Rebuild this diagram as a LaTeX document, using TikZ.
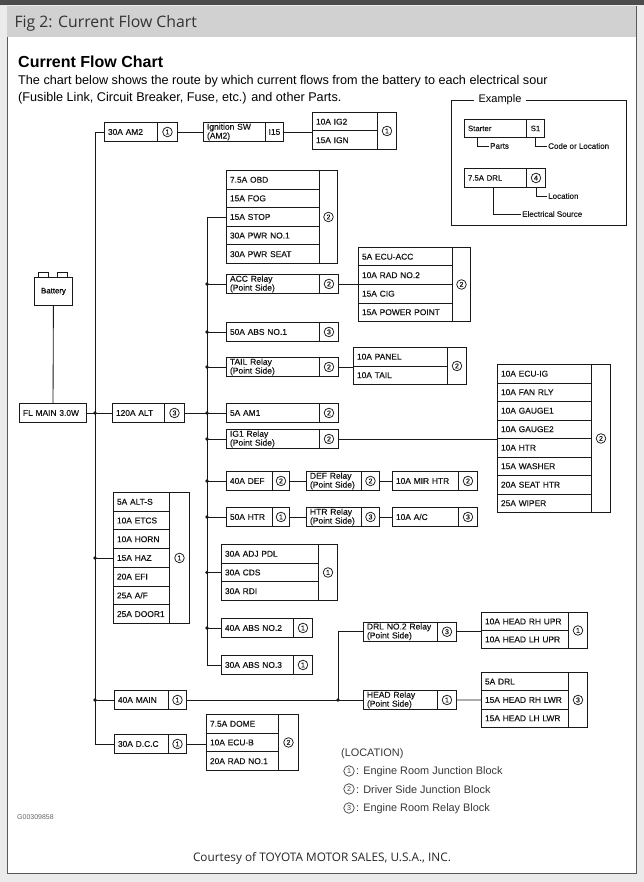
\documentclass[tikz,border=0pt]{standalone}
\usepackage{fontspec}
\setmainfont{Liberation Sans}
\newfontfamily\osans{Open Sans}
\newfontfamily\boxfont{Liberation Sans}[FakeBold=0.35]
\usetikzlibrary{calc}
\tikzset{
  ln/.style={line width=0.85pt, draw=black!90},
  cw/.code={\pgfmathsetmacro\cwtmp{#1-7}\edef\cwdo{\noexpand\pgfkeysalso{minimum width=#1pt,text width=\cwtmp pt}}\cwdo},
  box/.style={draw=black!90, line width=0.95pt, anchor=north west, inner xsep=3.5pt, inner ysep=0pt, align=left, font=\boxfont\fontsize{8.4}{9}\selectfont, text=black!92},
  rel/.style={box, inner xsep=2pt, font=\boxfont\fontsize{8.5}{7.8}\selectfont},
  cellc/.style={draw=black!90, line width=0.95pt, anchor=north west, inner sep=0pt, font=\boxfont\fontsize{8.4}{9}\selectfont, text=black!92},
  loc/.style={draw=black!90, line width=0.95pt, anchor=north west, inner sep=0pt, font=\boxfont\fontsize{7}{7}\selectfont, text=black!92,
    path picture={\draw[line width=0.75pt, black!90] (path picture bounding box.center) circle (4.8pt);}},
  cnum/.style={circle, draw=black!75, line width=0.7pt, inner sep=0pt, minimum size=10.5pt, font=\fontsize{7.2}{7}\selectfont, text=black!75},
  small/.style={font=\boxfont\fontsize{8}{9}\selectfont, text=black!90},
}
\newcommand\fusegroup[8]{%
  \foreach \lbl [count=\i] in {#8}{%
    \node[box, cw=#4, minimum height=#5pt] (#1\i) at (#2,{#3+#5*(\i-1)}) {\lbl};
    \xdef\grpn{\i}}%
  \pgfmathsetmacro\grph{#5*\grpn}%
  \node[loc, minimum width=#6pt, minimum height=\grph pt] (#1L) at ({#2+#4},#3) {#7};
}
\begin{document}
\begin{tikzpicture}[x=1pt,y=-1pt]
\useasboundingbox (0,0) rectangle (644,882);
% page frame
\fill[black!8] (0,0) rectangle (644,882);
\fill[black!70] (0,0) rectangle (644,5);
\draw[fill=white, draw=black!65, line width=0.8pt] (7,6) rectangle (636,873);
\fill[black!18] (7.4,6.4) rectangle (635.6,37);
\node[anchor=west, font=\osans\fontsize{15.8}{17}\selectfont, text=black!80] (fig) at (11,23) {Fig 2: Current Flow Chart};
% heading
\node[anchor=base west, inner sep=0pt, font=\bfseries\fontsize{16}{18}\selectfont] (head) at (18,68) {Current Flow Chart};
\node[anchor=base west, inner sep=0pt, font=\fontsize{12.65}{14}\selectfont] (sub1) at (18,84.5) {The chart below shows the route by which current flows from the battery to each electrical sour};
\node[anchor=base west, inner sep=0pt, font=\fontsize{12.65}{14}\selectfont] (sub2) at (18,101.5) {(Fusible Link, Circuit Breaker, Fuse, etc.) and other Parts.};

% ---------------- top row
\node[box, cw=53, minimum height=19pt] (am2) at (104,122) {30A AM2};
\node[loc, minimum width=20pt, minimum height=19pt] (am2L) at (157,122) {1};
\node[rel, cw=62, minimum height=19pt] (ign) at (203,122) {Ignition SW\\(AM2)};
\node[cellc, minimum width=18pt, minimum height=19pt] (i15) at (265,122) {I15};
\fusegroup{ig}{312}{112}{65}{18.5}{19}{1}{10A IG2,15A IGN}

% ---------------- right column groups
\fusegroup{obd}{226}{170}{93}{18.6}{18}{2}{7.5A OBD,15A FOG,15A STOP,30A PWR NO.1,30A PWR SEAT}
\node[rel, cw=93, minimum height=19pt] (accr) at (226,274) {ACC Relay\\(Point Side)};
\node[loc, minimum width=19pt, minimum height=19pt] (accrL) at (319,274) {2};
\fusegroup{eacc}{358}{247}{94}{18.5}{18}{2}{5A ECU-ACC,10A RAD NO.2,15A CIG,15A POWER POINT}
\node[box, cw=93, minimum height=19pt] (abs1) at (226,322) {50A ABS NO.1};
\node[loc, minimum width=19pt, minimum height=19pt] (abs1L) at (319,322) {3};
\node[rel, cw=93, minimum height=19pt] (tailr) at (226,357) {TAIL Relay\\(Point Side)};
\node[loc, minimum width=19pt, minimum height=19pt] (tailrL) at (319,357) {2};
\fusegroup{pan}{353}{347}{94}{18.5}{19}{2}{10A PANEL,10A TAIL}
\node[box, cw=93, minimum height=19pt] (am1) at (226,403) {5A AM1};
\node[loc, minimum width=19pt, minimum height=19pt] (am1L) at (319,403) {2};
\node[rel, cw=93, minimum height=19pt] (ig1r) at (226,429) {IG1 Relay\\(Point Side)};
\node[loc, minimum width=19pt, minimum height=19pt] (ig1rL) at (319,429) {2};
\fusegroup{eig}{497}{364}{94}{18.5}{19}{2}{10A ECU-IG,10A FAN RLY,10A GAUGE1,10A GAUGE2,10A HTR,15A WASHER,20A SEAT HTR,25A WIPER}

\node[box, cw=46, minimum height=19pt] (def) at (226,471) {40A DEF};
\node[loc, minimum width=17pt, minimum height=19pt] (defL) at (272,471) {2};
\node[rel, cw=55, minimum height=19pt] (defr) at (306,471) {DEF Relay\\(Point Side)};
\node[loc, minimum width=18pt, minimum height=19pt] (defrL) at (361,471) {2};
\node[box, cw=66, minimum height=19pt] (mir) at (392,471) {10A MIR HTR};
\node[loc, minimum width=19pt, minimum height=19pt] (mirL) at (458,471) {2};

\node[box, cw=46, minimum height=19pt] (htr) at (226,507) {50A HTR};
\node[loc, minimum width=17pt, minimum height=19pt] (htrL) at (272,507) {1};
\node[rel, cw=55, minimum height=19pt] (htrr) at (306,507) {HTR Relay\\(Point Side)};
\node[loc, minimum width=18pt, minimum height=19pt] (htrrL) at (361,507) {3};
\node[box, cw=66, minimum height=19pt] (ac) at (392,507) {10A A/C};
\node[loc, minimum width=19pt, minimum height=19pt] (acL) at (458,507) {3};

\fusegroup{adj}{221}{544}{97}{18.67}{19}{1}{30A ADJ PDL,30A CDS,30A RDI}
\node[box, cw=72, minimum height=19pt] (abs2) at (221,618) {40A ABS NO.2};
\node[loc, minimum width=19pt, minimum height=19pt] (abs2L) at (293,618) {1};
\node[box, cw=72, minimum height=19pt] (abs3) at (221,655) {30A ABS NO.3};
\node[loc, minimum width=19pt, minimum height=19pt] (abs3L) at (293,655) {1};

% ---------------- left column
\node[draw=black!90, line width=0.95pt, anchor=north west, minimum width=38pt, minimum height=28pt, inner sep=0pt, font=\boxfont\fontsize{7.8}{8}\selectfont] (bat) at (34,277) {Battery};
\draw[line width=0.85pt, black!90] (38,277) -- (38,272) -- (48,272) -- (48,277);
\draw[line width=0.85pt, black!90] (57,277) -- (57,272) -- (67,272) -- (67,277);
\node[box, cw=67, minimum height=19pt] (fl) at (19,403) {FL MAIN 3.0W};
\node[box, cw=52, minimum height=19pt] (alt) at (112,403) {120A ALT};
\node[loc, minimum width=20pt, minimum height=19pt] (altL) at (164,403) {3};
\fusegroup{als}{113}{492}{56}{18.71}{20}{1}{5A ALT-S,10A ETCS,10A HORN,15A HAZ,20A EFI,25A A/F,25A DOOR1}
\node[box, cw=54, minimum height=19pt] (mn) at (114,690) {40A MAIN};
\node[loc, minimum width=18pt, minimum height=19pt] (mnL) at (168,690) {1};
\node[box, cw=54, minimum height=19pt] (dcc) at (114,734) {30A D.C.C};
\node[loc, minimum width=18pt, minimum height=19pt] (dccL) at (168,734) {1};
\fusegroup{dome}{206}{714}{72}{18.67}{20}{2}{7.5A DOME,10A ECU-B,20A RAD NO.1}

% ---------------- head relays
\node[rel, cw=74, minimum height=18.5pt] (drlr) at (363,622) {DRL NO.2 Relay\\(Point Side)};
\node[loc, minimum width=19pt, minimum height=18.5pt] (drlrL) at (437,622) {3};
\node[rel, cw=74, minimum height=19pt] (headr) at (363,690) {HEAD Relay\\(Point Side)};
\node[loc, minimum width=19pt, minimum height=19pt] (headrL) at (437,690) {1};
\fusegroup{rh}{481}{612}{87}{18}{19}{1}{10A HEAD RH UPR,10A HEAD LH UPR}
\fusegroup{drl}{481}{672}{87}{18.33}{19}{3}{5A DRL,15A HEAD RH LWR,15A HEAD LH LWR}

% ---------------- connectors
\coordinate (mbx) at (95,0);
\coordinate (rbx) at (207,0);
\coordinate (hjx) at (338,0);
\draw[ln] (bat) -- (fl);
\draw[ln] (am2.west) -- (am2.west -| mbx) -- (dcc.west -| mbx) -- (dcc.west);
\draw[ln] (fl.east) -- (alt.west);
\draw[ln] (als4.west) -- (als4.west -| mbx);
\draw[ln] (mn.west) -- (mn.west -| mbx);
\foreach \n in {fl.east, als4.west, mn.west} \fill[black!90] (\n -| mbx) circle (1.8pt);
\draw[ln] (am2L.east) -- (ign.west);
\draw[ln] (i15.east) -- (i15.east -| ig1.west);

\draw[ln] (obd3.west) -- (obd3.west -| rbx) -- (abs3.west -| rbx) -- (abs3.west);
\draw[ln] (altL.east) -- (am1.west);
\foreach \n in {accr, abs1, tailr, ig1r, def, htr, adj2, abs2}{
  \draw[ln] (\n.west) -- (\n.west -| rbx);
}
\foreach \n in {accr, abs1, tailr, am1, ig1r, def, htr, adj2, abs2}{
  \fill[black!90] (\n.west -| rbx) circle (1.8pt);
}
\draw[ln] (accrL.east) -- (accrL.east -| eacc1.west);
\draw[ln] (tailrL.east) -- (tailrL.east -| pan1.west);
\draw[ln] (ig1rL.east) -- (ig1rL.east -| eig1.west);
\draw[ln] (defL.east) -- (defr.west);
\draw[ln] (defrL.east) -- (mir.west);
\draw[ln] (htrL.east) -- (htrr.west);
\draw[ln] (htrrL.east) -- (ac.west);

\draw[ln] (mnL.east) -- (headr.west);
\draw[ln] (headr.west -| hjx) |- (drlr.west);
\fill[black!90] (headr.west -| hjx) circle (1.8pt);
\draw[ln] (drlrL.east) -- (drlrL.east -| rh1.west);
\draw[ln] (headrL.east) -- (drl2.west);
\draw[ln] (dccL.east) -- (dccL.east -| dome2.west);

% ---------------- example box
\draw[ln] (451,100) rectangle (626,225);
\node[fill=white, inner xsep=5pt, inner ysep=1pt, font=\fontsize{11}{12}\selectfont] (ex) at (500,100) {Example};
\node[box, cw=62, minimum height=18pt, font=\boxfont\fontsize{7.8}{8}\selectfont] (st) at (464,119) {Starter};
\node[cellc, minimum width=18pt, minimum height=18pt, font=\boxfont\fontsize{7.8}{8}\selectfont] (s1) at (526,119) {S1};
\node[box, cw=62, minimum height=19pt, font=\boxfont\fontsize{7.8}{8}\selectfont] (exd) at (464,168) {7.5A DRL};
\node[loc, minimum width=19pt, minimum height=19pt] (exdL) at (526,168) {4};
\node[small, anchor=west, inner sep=1pt] (partsT) at (489,146) {Parts};
\node[small, anchor=west, inner sep=1pt] (codeT) at (547,146) {Code or Location};
\node[small, anchor=west, inner sep=1pt] (locT) at (547,196) {Location};
\node[small, anchor=west, inner sep=1pt] (srcT) at (521,214) {Electrical Source};
\draw[line width=0.75pt, black!90] ([xshift=13pt]st.south west) |- (partsT.west);
\draw[line width=0.75pt, black!90] (s1.south) |- (codeT.west);
\draw[line width=0.75pt, black!90] (exdL.south) |- (locT.west);
\draw[line width=0.75pt, black!90] ([xshift=29pt]exd.south west) |- (srcT.west);

% ---------------- legend
\node[anchor=base west, inner sep=0pt, font=\fontsize{10.9}{12}\selectfont, text=black!78] (lgT) at (341,756) {(LOCATION)};
\node[cnum] (lg1) at (349,771) {1};
\node[cnum] (lg2) at (349,789) {2};
\node[cnum] (lg3) at (349,808) {3};
\node[anchor=west, inner sep=0pt, font=\fontsize{10.9}{12}\selectfont, text=black!78] (lg1T) at (356,771.5) {: Engine Room Junction Block};
\node[anchor=west, inner sep=0pt, font=\fontsize{10.9}{12}\selectfont, text=black!78] (lg2T) at (356,789.5) {: Driver Side Junction Block};
\node[anchor=west, inner sep=0pt, font=\fontsize{10.9}{12}\selectfont, text=black!78] (lg3T) at (356,808.5) {: Engine Room Relay Block};

\node[anchor=west, inner sep=0pt, font=\fontsize{7}{8}\selectfont, text=black!60] (gid) at (17,817) {G00309858};
\node[inner sep=0pt, font=\osans\fontsize{11.8}{13}\selectfont, text=black!85] (court) at (322,858) {Courtesy of TOYOTA MOTOR SALES, U.S.A., INC.};
\end{tikzpicture}
\end{document}
